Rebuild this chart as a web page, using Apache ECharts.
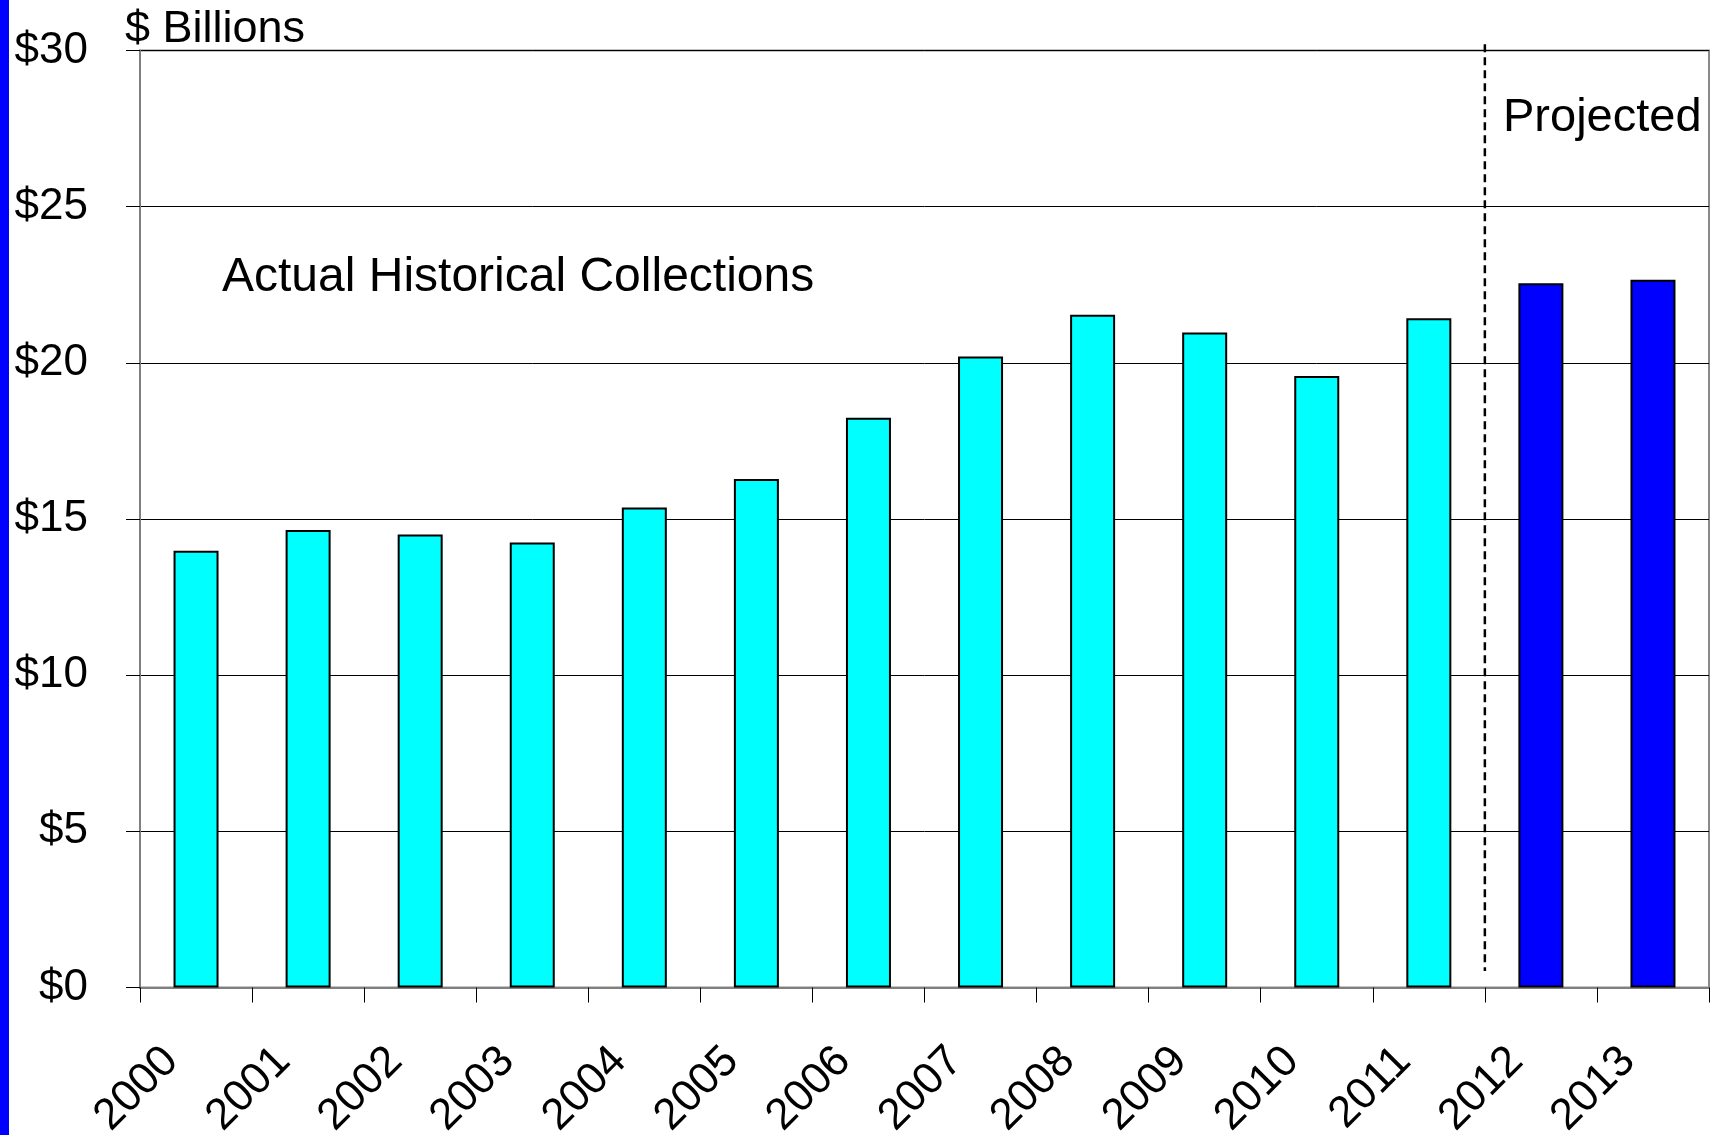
<!DOCTYPE html>
<html>
<head>
<meta charset="utf-8">
<script src="https://cdn.jsdelivr.net/npm/echarts@6/dist/echarts.min.js"></script>
<style>
html,body{margin:0;padding:0;background:#fff;}
#main{width:1715px;height:1135px;}
</style>
</head>
<body>
<div id="main"></div>
<script>
const years = ['2000','2001','2002','2003','2004','2005','2006','2007','2008','2009','2010','2011','2012','2013'];
const actual = [13.98, 14.65, 14.5, 14.25, 15.37, 16.28, 18.24, 20.2, 21.54, 20.97, 19.58, 21.43, null, null];
const projected = [null, null, null, null, null, null, null, null, null, null, null, null, 22.55, 22.66];
const yTicks = [0, 5, 10, 15, 20, 25, 30];
const dividerAt = 12; // boundary between 2011 and 2012 (in category units)
const dividerRange = [0.53, 30.2];

const FONT = '"Liberation Sans", Arial, sans-serif';
const chart = echarts.init(document.getElementById('main'), null, {renderer: 'canvas'});

const option = {
  backgroundColor: '#fff',
  animation: false,
  textStyle: {fontFamily: FONT, color: '#000'},
  grid: {left: 140, right: 6, top: 50.5, bottom: 147.5, containLabel: false, outerBoundsMode: 'none',
         show: true, borderColor: '#8a8a8a', borderWidth: 2, backgroundColor: 'transparent'},
  xAxis: [{
    type: 'category',
    data: years,
    boundaryGap: true,
    axisLine: {show: true, lineStyle: {color: '#808080', width: 2}},
    axisTick: {show: true, interval: 0, length: 15, lineStyle: {color: '#000', width: 1}},
    axisLabel: {interval: 0, rotate: 45, fontSize: 44, color: '#000', fontFamily: FONT, margin: 42, padding: [0, 35, 0, 0]},
    splitLine: {show: false}
  }, {
    type: 'value', min: 0, max: years.length, show: false
  }],
  yAxis: {
    type: 'value',
    min: yTicks[0], max: yTicks[yTicks.length - 1], interval: 5,
    axisLine: {show: true, lineStyle: {color: '#808080', width: 2}},
    axisTick: {show: true, length: 14, lineStyle: {color: '#000', width: 1}},
    axisLabel: {fontSize: 44, color: '#000', fontFamily: FONT, margin: 52, formatter: v => '$' + v},
    splitLine: {show: true, lineStyle: {color: '#000', width: 1}}
  },
  series: [{
    name: 'Actual', type: 'bar', xAxisIndex: 0,
    data: actual, barWidth: 45, barGap: '-100%',
    itemStyle: {color: '#00FFFF', borderColor: '#000', borderWidth: 2}
  }, {
    name: 'Projected', type: 'bar', xAxisIndex: 0,
    data: projected, barWidth: 45, barGap: '-100%',
    itemStyle: {color: '#0000FF', borderColor: '#000', borderWidth: 2}
  }, {
    name: 'divider', type: 'line', xAxisIndex: 1, clip: false, symbol: 'none', silent: true, z: 5,
    data: [[dividerAt, dividerRange[1]], [dividerAt, dividerRange[0]]],
    lineStyle: {color: '#000', width: 2.5, type: [8, 5]}
  }],
  graphic: [
    {type: 'rect', left: 0, top: 0, shape: {width: 9, height: 1135}, style: {fill: '#0000FF'}, z: 10},
    {type: 'text', x: 125, y: 30, style: {text: '$ Billions', font: '45px ' + FONT, fill: '#000', textVerticalAlign: 'middle'}, z: 10},
    {type: 'text', x: 1503, y: 118, style: {text: 'Projected', font: '47px ' + FONT, fill: '#000', textVerticalAlign: 'middle'}, z: 10},
    {type: 'text', x: 222, y: 278, style: {text: 'Actual Historical Collections', font: '48px ' + FONT, fill: '#000', textVerticalAlign: 'middle'}, z: 10}
  ]
};
chart.setOption(option);
</script>
</body>
</html>
